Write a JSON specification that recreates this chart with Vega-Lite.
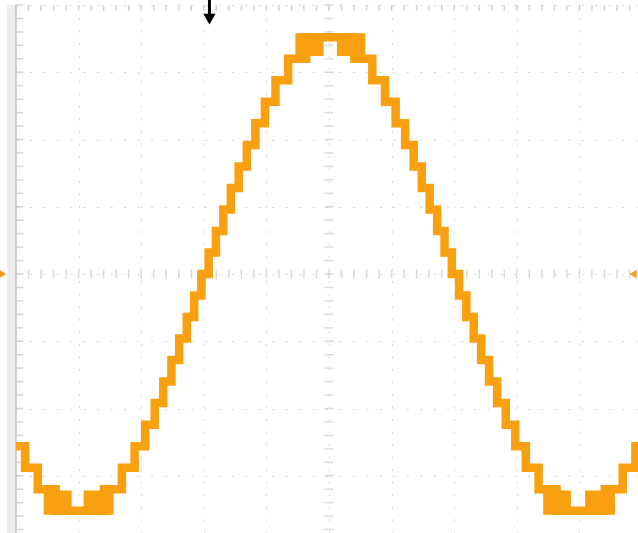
{
  "$schema": "https://vega.github.io/schema/vega-lite/v6.json",
  "width": 626,
  "height": 538,
  "padding": {"left": 16, "top": 5, "right": 0, "bottom": 0},
  "autosize": {"type": "none"},
  "background": "white",
  "config": {
    "view": {"stroke": null},
    "axis": {"labels": false, "ticks": false, "domain": false, "title": null, "grid": true, "gridColor": "#d6d6d6", "gridWidth": 1},
    "axisX": {"tickCount": 10, "gridDash": [2, 10.53]},
    "axisY": {"tickCount": 8, "gridDash": [2, 11.46]}
  },
  "datasets": {
    "wave": [
      {"t": 0, "v": -2.56}, {"t": 0.145, "v": -2.88}, {"t": 0.348, "v": -3.2}, {"t": 0.635, "v": -3.52},
      {"t": 1.405, "v": -3.2}, {"t": 1.692, "v": -2.88}, {"t": 1.895, "v": -2.56}, {"t": 2.064, "v": -2.24},
      {"t": 2.216, "v": -1.92}, {"t": 2.353, "v": -1.6}, {"t": 2.483, "v": -1.28}, {"t": 2.608, "v": -0.96},
      {"t": 2.728, "v": -0.64}, {"t": 2.846, "v": -0.32}, {"t": 2.962, "v": 0}, {"t": 3.078, "v": 0.32},
      {"t": 3.194, "v": 0.64}, {"t": 3.312, "v": 0.96}, {"t": 3.432, "v": 1.28}, {"t": 3.557, "v": 1.6},
      {"t": 3.687, "v": 1.92}, {"t": 3.824, "v": 2.24}, {"t": 3.976, "v": 2.56}, {"t": 4.145, "v": 2.88},
      {"t": 4.348, "v": 3.2}, {"t": 4.635, "v": 3.52}, {"t": 5.405, "v": 3.2}, {"t": 5.692, "v": 2.88},
      {"t": 5.895, "v": 2.56}, {"t": 6.064, "v": 2.24}, {"t": 6.216, "v": 1.92}, {"t": 6.353, "v": 1.6},
      {"t": 6.483, "v": 1.28}, {"t": 6.608, "v": 0.96}, {"t": 6.728, "v": 0.64}, {"t": 6.846, "v": 0.32},
      {"t": 6.962, "v": 0}, {"t": 7.078, "v": -0.32}, {"t": 7.194, "v": -0.64}, {"t": 7.312, "v": -0.96},
      {"t": 7.432, "v": -1.28}, {"t": 7.557, "v": -1.6}, {"t": 7.687, "v": -1.92}, {"t": 7.824, "v": -2.24},
      {"t": 7.976, "v": -2.56}, {"t": 8.145, "v": -2.88}, {"t": 8.348, "v": -3.2}, {"t": 8.635, "v": -3.52},
      {"t": 9.405, "v": -3.2}, {"t": 9.692, "v": -2.88}, {"t": 9.895, "v": -2.56}, {"t": 10, "v": -2.56}
    ],
    "pwm": [
      {"t1": 0.506, "t2": 0.825, "lo": -3.52, "hi": -3.28},
      {"t1": 1.144, "t2": 1.495, "lo": -3.52, "hi": -3.28},
      {"t1": 4.527, "t2": 4.85, "lo": 3.3, "hi": 3.52},
      {"t1": 5.19, "t2": 5.516, "lo": 3.3, "hi": 3.52},
      {"t1": 8.485, "t2": 8.8, "lo": -3.52, "hi": -3.28},
      {"t1": 9.155, "t2": 9.505, "lo": -3.52, "hi": -3.28}
    ],
    "xs": [
      {"p": 0}, {"p": 0.2}, {"p": 0.4}, {"p": 0.6}, {"p": 0.8}, {"p": 1}, {"p": 1.2}, {"p": 1.4}, {"p": 1.6}, {"p": 1.8},
      {"p": 2}, {"p": 2.2}, {"p": 2.4}, {"p": 2.6}, {"p": 2.8}, {"p": 3}, {"p": 3.2}, {"p": 3.4}, {"p": 3.6}, {"p": 3.8},
      {"p": 4}, {"p": 4.2}, {"p": 4.4}, {"p": 4.6}, {"p": 4.8}, {"p": 5}, {"p": 5.2}, {"p": 5.4}, {"p": 5.6}, {"p": 5.8},
      {"p": 6}, {"p": 6.2}, {"p": 6.4}, {"p": 6.6}, {"p": 6.8}, {"p": 7}, {"p": 7.2}, {"p": 7.4}, {"p": 7.6}, {"p": 7.8},
      {"p": 8}, {"p": 8.2}, {"p": 8.4}, {"p": 8.6}, {"p": 8.8}, {"p": 9}, {"p": 9.2}, {"p": 9.4}, {"p": 9.6}, {"p": 9.8}, {"p": 10}
    ],
    "ys": [
      {"p": -4}, {"p": -3.8}, {"p": -3.6}, {"p": -3.4}, {"p": -3.2}, {"p": -3}, {"p": -2.8}, {"p": -2.6}, {"p": -2.4}, {"p": -2.2},
      {"p": -2}, {"p": -1.8}, {"p": -1.6}, {"p": -1.4}, {"p": -1.2}, {"p": -1}, {"p": -0.8}, {"p": -0.6}, {"p": -0.4}, {"p": -0.2},
      {"p": 0}, {"p": 0.2}, {"p": 0.4}, {"p": 0.6}, {"p": 0.8}, {"p": 1}, {"p": 1.2}, {"p": 1.4}, {"p": 1.6}, {"p": 1.8},
      {"p": 2}, {"p": 2.2}, {"p": 2.4}, {"p": 2.6}, {"p": 2.8}, {"p": 3}, {"p": 3.2}, {"p": 3.4}, {"p": 3.6}, {"p": 3.8}, {"p": 4}
    ],
    "markers": [
      {"t": -0.212, "v": 0, "shape": "triangle-right"},
      {"t": 9.857, "v": 0, "shape": "triangle-left"}
    ],
    "trigger": [
      {"t": 3.09, "top": 4.074, "bottom": 3.85, "head": 3.79}
    ]
  },
  "layer": [
    {
      "data": {"name": "wave"},
      "transform": [{"filter": "datum.t == 0"}],
      "mark": {"type": "rect", "color": "#ececec"},
      "encoding": {
        "x": {"datum": -0.14, "type": "quantitative", "scale": {"domain": [0, 10], "nice": false, "zero": false}},
        "x2": {"datum": 0},
        "y": {"datum": -4, "type": "quantitative", "scale": {"domain": [-4, 4], "nice": false, "zero": false}},
        "y2": {"datum": 4}
      }
    },
    {
      "data": {"name": "wave"},
      "transform": [{"filter": "datum.t == 0"}],
      "mark": {"type": "rule", "color": "#c4c4c4", "strokeWidth": 1.5},
      "encoding": {
        "x": {"datum": 0, "type": "quantitative"},
        "y": {"datum": -4, "type": "quantitative"},
        "y2": {"datum": 4}
      }
    },
    {
      "data": {"name": "xs"},
      "mark": {"type": "tick", "orient": "vertical", "size": 6, "thickness": 1.5, "color": "#c2c2c2"},
      "encoding": {"x": {"field": "p", "type": "quantitative"}, "y": {"datum": 3.955, "type": "quantitative"}}
    },
    {
      "data": {"name": "xs"},
      "mark": {"type": "tick", "orient": "vertical", "size": 9, "thickness": 1.5, "color": "#cccccc"},
      "encoding": {"x": {"field": "p", "type": "quantitative"}, "y": {"datum": 0, "type": "quantitative"}}
    },
    {
      "data": {"name": "ys"},
      "mark": {"type": "tick", "orient": "horizontal", "size": 7, "thickness": 1.5, "color": "#c2c2c2"},
      "encoding": {"y": {"field": "p", "type": "quantitative"}, "x": {"datum": 0.06, "type": "quantitative"}}
    },
    {
      "data": {"name": "ys"},
      "mark": {"type": "tick", "orient": "horizontal", "size": 9, "thickness": 1.5, "color": "#cccccc"},
      "encoding": {"y": {"field": "p", "type": "quantitative"}, "x": {"datum": 5, "type": "quantitative"}}
    },
    {
      "data": {"name": "pwm"},
      "mark": {"type": "rect", "color": "#F8A010", "stroke": "#F8A010", "strokeWidth": 8, "strokeJoin": "miter"},
      "encoding": {
        "x": {"field": "t1", "type": "quantitative"},
        "x2": {"field": "t2"},
        "y": {"field": "lo", "type": "quantitative"},
        "y2": {"field": "hi"}
      }
    },
    {
      "data": {"name": "wave"},
      "mark": {"type": "line", "interpolate": "step-after", "color": "#F8A010", "strokeWidth": 8.5, "strokeJoin": "miter", "clip": true},
      "encoding": {
        "x": {"field": "t", "type": "quantitative"},
        "y": {"field": "v", "type": "quantitative"}
      }
    },
    {
      "data": {"name": "markers"},
      "mark": {"type": "point", "filled": true, "size": 70, "color": "#F0A020", "opacity": 1},
      "encoding": {
        "x": {"field": "t", "type": "quantitative"},
        "y": {"field": "v", "type": "quantitative"},
        "shape": {"field": "shape", "type": "nominal", "scale": null, "legend": null}
      }
    },
    {
      "data": {"name": "trigger"},
      "mark": {"type": "rule", "color": "black", "strokeWidth": 3},
      "encoding": {
        "x": {"field": "t", "type": "quantitative"},
        "y": {"field": "top", "type": "quantitative"},
        "y2": {"field": "bottom"}
      }
    },
    {
      "data": {"name": "trigger"},
      "mark": {"type": "point", "shape": "triangle-down", "filled": true, "size": 150, "color": "black", "opacity": 1},
      "encoding": {
        "x": {"field": "t", "type": "quantitative"},
        "y": {"field": "head", "type": "quantitative"}
      }
    }
  ]
}
